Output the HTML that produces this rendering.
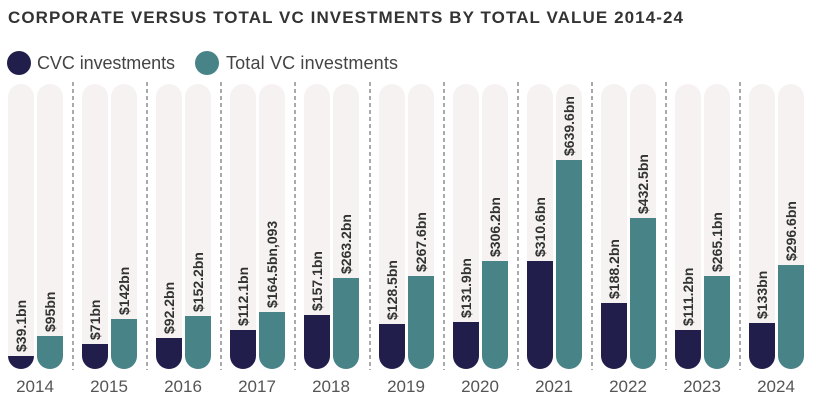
<!DOCTYPE html>
<html><head><meta charset="utf-8"><style>
body{margin:0;background:#fff;width:816px;height:404px;overflow:hidden}
text{font-family:"Liberation Sans",sans-serif}
.v{font-size:14px;font-weight:bold;fill:#333}
.y{font-size:17px;fill:#555;text-anchor:middle}
</style></head><body>
<svg width="816" height="404" xmlns="http://www.w3.org/2000/svg">
<defs>
<clipPath id="c"><rect x="0" y="0" width="26" height="285" rx="13"/></clipPath>
<g id="bg"><rect x="0" y="0" width="26" height="285" rx="13" fill="#f6f2f2"/></g>
</defs>
<text x="8" y="23" font-size="17" font-weight="bold" fill="#333" textLength="675">CORPORATE VERSUS TOTAL VC INVESTMENTS BY TOTAL VALUE 2014-24</text>
<circle cx="19" cy="63" r="12" fill="#211e4b"/>
<text x="37" y="69" font-size="18" fill="#444" textLength="138">CVC investments</text>
<circle cx="207" cy="63" r="12" fill="#478387"/>
<text x="226" y="69" font-size="18" fill="#444" textLength="172">Total VC investments</text>
<g stroke="#555" stroke-dasharray="4,3" stroke-width="1">
<line x1="73" y1="82" x2="73" y2="370"/><line x1="147" y1="82" x2="147" y2="370"/><line x1="221" y1="82" x2="221" y2="370"/><line x1="295" y1="82" x2="295" y2="370"/><line x1="370" y1="82" x2="370" y2="370"/><line x1="444" y1="82" x2="444" y2="370"/><line x1="518" y1="82" x2="518" y2="370"/><line x1="592" y1="82" x2="592" y2="370"/><line x1="666" y1="82" x2="666" y2="370"/><line x1="740" y1="82" x2="740" y2="370"/>
</g>
<g transform="translate(8,84)"><use href="#bg"/><rect y="272" width="26" height="40" fill="#211e4b" clip-path="url(#c)"/></g>
<g transform="translate(37,84)"><use href="#bg"/><rect y="252" width="26" height="40" fill="#478387" clip-path="url(#c)"/></g>
<g transform="translate(82,84)"><use href="#bg"/><rect y="260" width="26" height="40" fill="#211e4b" clip-path="url(#c)"/></g>
<g transform="translate(111,84)"><use href="#bg"/><rect y="235" width="26" height="60" fill="#478387" clip-path="url(#c)"/></g>
<g transform="translate(156,84)"><use href="#bg"/><rect y="254" width="26" height="40" fill="#211e4b" clip-path="url(#c)"/></g>
<g transform="translate(185,84)"><use href="#bg"/><rect y="232" width="26" height="60" fill="#478387" clip-path="url(#c)"/></g>
<g transform="translate(230,84)"><use href="#bg"/><rect y="246" width="26" height="60" fill="#211e4b" clip-path="url(#c)"/></g>
<g transform="translate(259,84)"><use href="#bg"/><rect y="228" width="26" height="60" fill="#478387" clip-path="url(#c)"/></g>
<g transform="translate(304,84)"><use href="#bg"/><rect y="231" width="26" height="60" fill="#211e4b" clip-path="url(#c)"/></g>
<g transform="translate(333,84)"><use href="#bg"/><rect y="194" width="26" height="100" fill="#478387" clip-path="url(#c)"/></g>
<g transform="translate(379,84)"><use href="#bg"/><rect y="240" width="26" height="60" fill="#211e4b" clip-path="url(#c)"/></g>
<g transform="translate(408,84)"><use href="#bg"/><rect y="192" width="26" height="100" fill="#478387" clip-path="url(#c)"/></g>
<g transform="translate(453,84)"><use href="#bg"/><rect y="238" width="26" height="60" fill="#211e4b" clip-path="url(#c)"/></g>
<g transform="translate(482,84)"><use href="#bg"/><rect y="177" width="26" height="120" fill="#478387" clip-path="url(#c)"/></g>
<g transform="translate(527,84)"><use href="#bg"/><rect y="177" width="26" height="120" fill="#211e4b" clip-path="url(#c)"/></g>
<g transform="translate(556,84)"><use href="#bg"/><rect y="76" width="26" height="220" fill="#478387" clip-path="url(#c)"/></g>
<g transform="translate(601,84)"><use href="#bg"/><rect y="219" width="26" height="80" fill="#211e4b" clip-path="url(#c)"/></g>
<g transform="translate(630,84)"><use href="#bg"/><rect y="134" width="26" height="160" fill="#478387" clip-path="url(#c)"/></g>
<g transform="translate(675,84)"><use href="#bg"/><rect y="246" width="26" height="60" fill="#211e4b" clip-path="url(#c)"/></g>
<g transform="translate(704,84)"><use href="#bg"/><rect y="192" width="26" height="100" fill="#478387" clip-path="url(#c)"/></g>
<g transform="translate(749,84)"><use href="#bg"/><rect y="239" width="26" height="60" fill="#211e4b" clip-path="url(#c)"/></g>
<g transform="translate(778,84)"><use href="#bg"/><rect y="181" width="26" height="120" fill="#478387" clip-path="url(#c)"/></g>
<text class="v" transform="translate(26,352) rotate(-90)">$39.1bn</text>
<text class="v" transform="translate(55,332) rotate(-90)">$95bn</text>
<text class="v" transform="translate(100,340) rotate(-90)">$71bn</text>
<text class="v" transform="translate(129,315) rotate(-90)">$142bn</text>
<text class="v" transform="translate(174,334) rotate(-90)">$92.2bn</text>
<text class="v" transform="translate(203,312) rotate(-90)">$152.2bn</text>
<text class="v" transform="translate(248,326) rotate(-90)">$112.1bn</text>
<text class="v" transform="translate(277,308) rotate(-90)">$164.5bn,093</text>
<text class="v" transform="translate(322,311) rotate(-90)">$157.1bn</text>
<text class="v" transform="translate(351,274) rotate(-90)">$263.2bn</text>
<text class="v" transform="translate(397,320) rotate(-90)">$128.5bn</text>
<text class="v" transform="translate(426,272) rotate(-90)">$267.6bn</text>
<text class="v" transform="translate(471,318) rotate(-90)">$131.9bn</text>
<text class="v" transform="translate(500,257) rotate(-90)">$306.2bn</text>
<text class="v" transform="translate(545,257) rotate(-90)">$310.6bn</text>
<text class="v" transform="translate(574,156) rotate(-90)">$639.6bn</text>
<text class="v" transform="translate(619,299) rotate(-90)">$188.2bn</text>
<text class="v" transform="translate(648,214) rotate(-90)">$432.5bn</text>
<text class="v" transform="translate(693,326) rotate(-90)">$111.2bn</text>
<text class="v" transform="translate(722,272) rotate(-90)">$265.1bn</text>
<text class="v" transform="translate(767,319) rotate(-90)">$133bn</text>
<text class="v" transform="translate(796,261) rotate(-90)">$296.6bn</text>
<text class="y" x="35" y="392">2014</text>
<text class="y" x="109" y="392">2015</text>
<text class="y" x="183" y="392">2016</text>
<text class="y" x="257" y="392">2017</text>
<text class="y" x="331" y="392">2018</text>
<text class="y" x="406" y="392">2019</text>
<text class="y" x="480" y="392">2020</text>
<text class="y" x="554" y="392">2021</text>
<text class="y" x="628" y="392">2022</text>
<text class="y" x="702" y="392">2023</text>
<text class="y" x="776" y="392">2024</text>
</svg>
</body></html>
